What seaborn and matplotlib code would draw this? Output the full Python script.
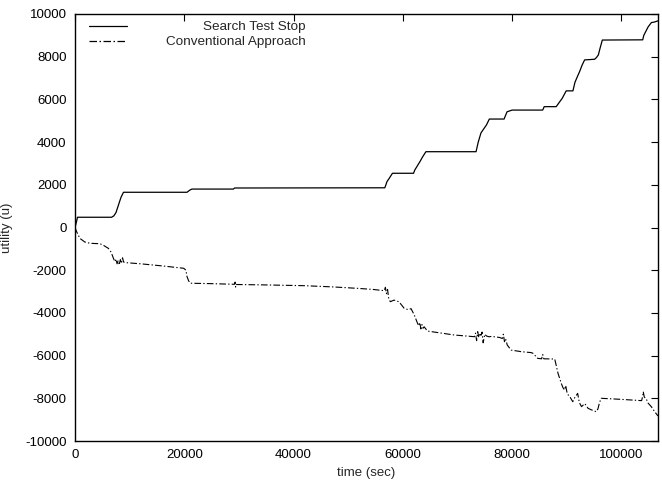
import matplotlib
matplotlib.use("Agg")
import matplotlib.pyplot as plt
import seaborn as sns
import pandas as pd

# ---- data ----
sts_time = [0, 300, 450, 6700, 7000, 7100, 7500, 7950, 8400, 8870, 20500, 21000, 21400,
            29000, 29200, 56700, 56900, 57100, 57500, 58100, 61960, 62200, 62570, 62800,
            63120, 63600, 64220, 73400, 73800, 74300, 74860, 75300, 75830, 78530, 78800,
            79080, 80000, 85600, 85870, 88070, 88600, 89170, 89900, 91130, 91500, 92000,
            92350, 92800, 93270, 95100, 95400, 95780, 96100, 96510, 103900, 104100, 104500,
            104900, 105500, 106000, 106700]
sts_util = [0, 300, 480, 480, 530, 540, 700, 1050, 1400, 1650, 1650, 1750, 1800,
            1800, 1850, 1860, 2000, 2150, 2300, 2540, 2540, 2700, 2850, 2950,
            3080, 3300, 3550, 3550, 4000, 4430, 4640, 4800, 5080, 5080, 5250,
            5420, 5500, 5500, 5660, 5660, 5850, 6050, 6400, 6400, 6800, 7100,
            7300, 7600, 7850, 7880, 7950, 8080, 8400, 8780, 8790, 9000, 9200,
            9400, 9600, 9620, 9680]

conv_time = [0, 300, 900, 1800, 2750, 4600, 5300, 6100, 6600, 7030, 7300, 7500, 7700, 7900,
             8100, 8300, 8500, 8700, 8900, 9480, 12000, 16000, 19900, 20300, 20500, 20800,
             21100, 25000, 29200, 29300, 29400, 29500, 35000, 41900, 47000, 51700, 54500,
             56600, 56800, 57000, 57200, 57400, 57700, 58400, 59300, 60250, 61000, 61500,
             61780, 62100, 62400, 62700, 62900, 63100, 63300, 63500, 63700, 63900, 64500,
             69400, 73100, 73300, 73500, 73700, 73900, 74100, 74300, 74500, 74700, 75000,
             75300, 75800, 76200, 77700, 78200, 78400, 78600, 78800, 79100, 79800, 81650,
             83500, 83800, 84700, 85400, 85600, 85800, 87800, 88400, 89000, 89300, 89600,
             89800, 90100, 90500, 91100, 91500, 92000, 92300, 92700, 93300, 93900, 94600,
             95400, 95700, 96000, 96300, 100000, 103700, 103900, 104000, 104200, 104500,
             104900, 105500, 106100, 106700]
conv_util = [0, -200, -510, -680, -740, -760, -850, -975, -1150, -1440, -1600, -1480, -1700, -1550,
             -1750, -1500, -1680, -1420, -1620, -1650, -1700, -1800, -1910, -2000, -2300, -2500,
             -2610, -2630, -2660, -2560, -2790, -2670, -2690, -2725, -2780, -2850, -2900,
             -2960, -2800, -3100, -2900, -3300, -3475, -3400, -3480, -3785, -3850, -3800,
             -3940, -4100, -4300, -4490, -4600, -4450, -4750, -4550, -4720, -4650, -4850,
             -5035, -5115, -4950, -5300, -4880, -5150, -4950, -5050, -4900, -5400, -5000,
             -5080, -5120, -5100, -5150, -5200, -5000, -5350, -5200, -5500, -5740, -5815,
             -5860, -5890, -6130, -6150, -5950, -6150, -6160, -6830, -7300, -7500, -7610,
             -7400, -7800, -7900, -8160, -7950, -7770, -8200, -8390, -8250, -8470, -8550,
             -8630, -8500, -8200, -8000, -8050, -8110, -7900, -7690, -7950, -8000,
             -8230, -8400, -8630, -8830]

labels = ["Search Test Stop", "Conventional Approach"]
x_ticks = [0, 20000, 40000, 60000, 80000, 100000]
y_ticks = list(range(-10000, 10001, 2000))

# ---- figure ----
sns.set_style("white")
plt.rcParams["font.family"] = ["Liberation Sans", "DejaVu Sans"]
plt.rcParams["font.size"] = 9.5

fig = plt.figure(figsize=(6.62, 4.84), dpi=100)
ax = fig.add_axes([75 / 662, 1 - 441 / 484, 583 / 662, 427 / 484])

df1 = pd.DataFrame({"time": sts_time, "utility": sts_util})
df2 = pd.DataFrame({"time": conv_time, "utility": conv_util})
sns.lineplot(data=df1, x="time", y="utility", ax=ax, color="black", linewidth=0.9,
             sort=False, estimator=None, label=labels[0])
sns.lineplot(data=df2, x="time", y="utility", ax=ax, color="black", linewidth=0.8,
             linestyle=(0, (6, 2, 1.2, 2)), sort=False, estimator=None, label=labels[1])

ax.set_xlim(0, 106700)
ax.set_ylim(-10000, 10000)
ax.set_xticks(x_ticks)
ax.set_yticks(y_ticks)
ax.set_xticklabels([str(t) for t in x_ticks])
ax.set_yticklabels([str(t) for t in y_ticks])
ax.tick_params(direction="in", length=5, width=0.8, top=True, right=True,
               labelsize=9.5, colors="black", pad=6)
for s in ax.spines.values():
    s.set_visible(True)
    s.set_color("black")
    s.set_linewidth(1.0)

ax.set_xlabel("time (sec)", fontsize=9.5, labelpad=4)
ax.set_ylabel("utility (u)", fontsize=9.5)
ax.yaxis.set_label_coords(-0.107, 0.5)

leg = ax.legend(loc="upper left", bbox_to_anchor=(0.024, 0.984), frameon=False,
                handlelength=2.85, handletextpad=2.85, labelspacing=0.2,
                borderpad=0, borderaxespad=0, fontsize=9.7)
for h in leg.legend_handles:
    h.set_linewidth(0.9)
fig.canvas.draw()
renderer = fig.canvas.get_renderer()
widths = [t.get_window_extent(renderer).width for t in leg.get_texts()]
shift = max(widths)
for t, w in zip(leg.get_texts(), widths):
    t.set_position((shift - w, 0))

fig.savefig("out.png", dpi=100)
